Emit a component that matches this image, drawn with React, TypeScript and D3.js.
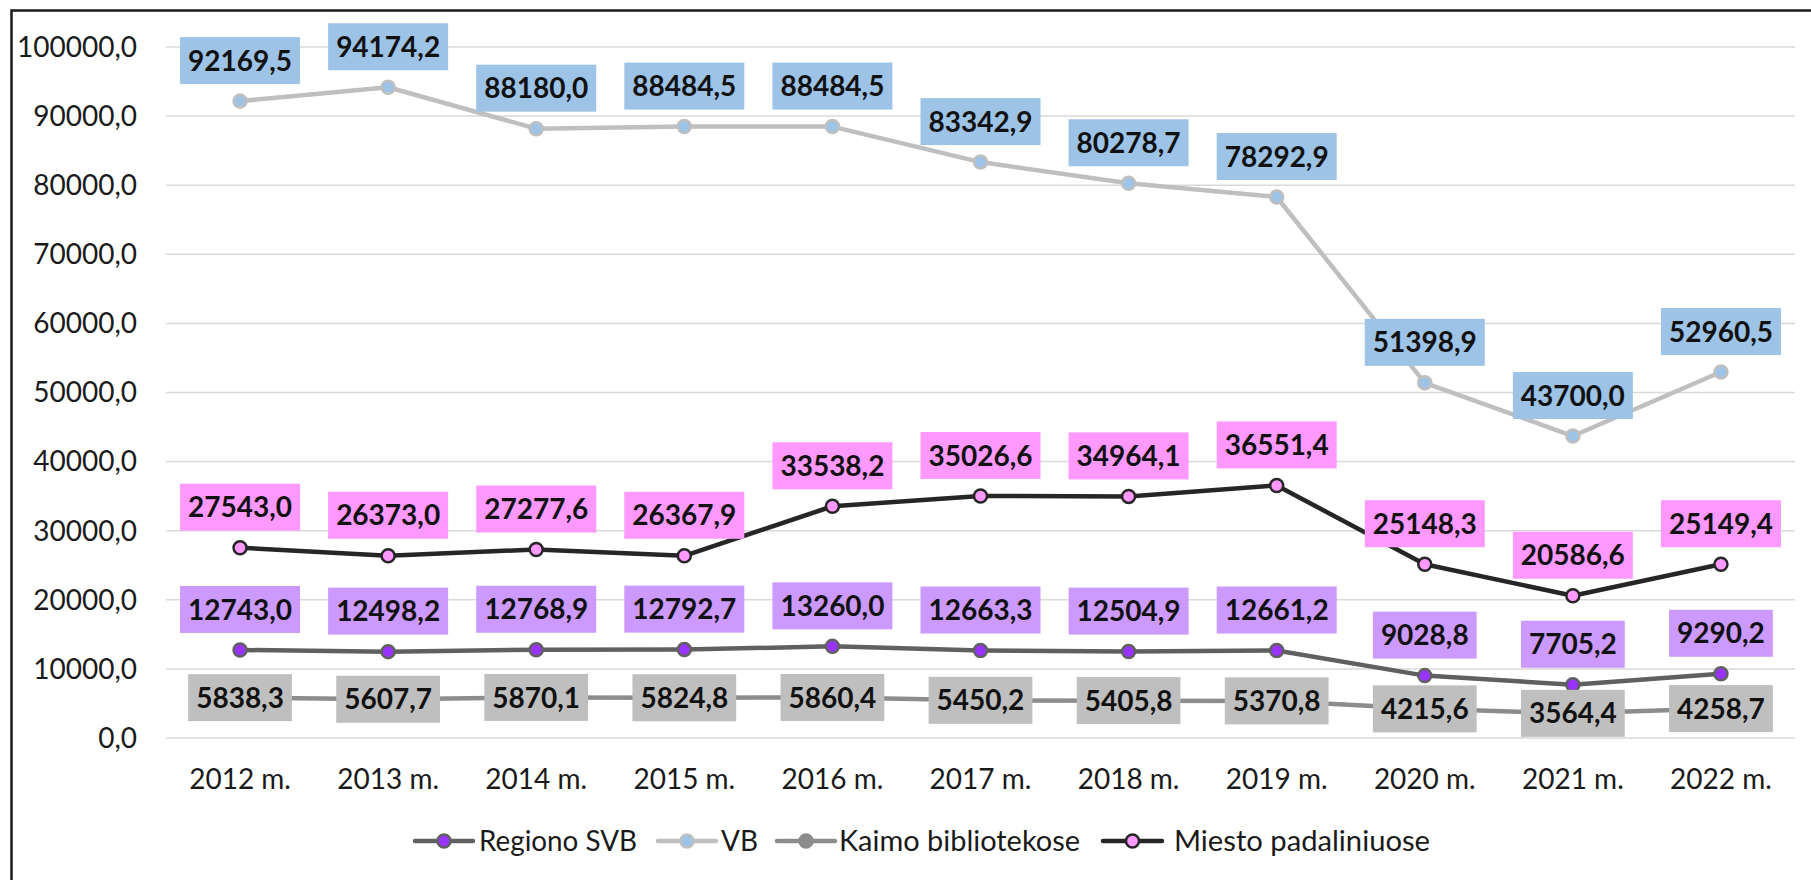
import React, { useRef, useEffect } from "react";
import * as d3 from "d3";

const years = ["2012 m.", "2013 m.", "2014 m.", "2015 m.", "2016 m.", "2017 m.", "2018 m.", "2019 m.", "2020 m.", "2021 m.", "2022 m."];
const regionoSVB = [12743.0, 12498.2, 12768.9, 12792.7, 13260.0, 12663.3, 12504.9, 12661.2, 9028.8, 7705.2, 9290.2];
const vb = [92169.5, 94174.2, 88180.0, 88484.5, 88484.5, 83342.9, 80278.7, 78292.9, 51398.9, 43700.0, 52960.5];
const kaimo = [5838.3, 5607.7, 5870.1, 5824.8, 5860.4, 5450.2, 5405.8, 5370.8, 4215.6, 3564.4, 4258.7];
const miesto = [27543.0, 26373.0, 27277.6, 26367.9, 33538.2, 35026.6, 34964.1, 36551.4, 25148.3, 20586.6, 25149.4];
const yTicks = [0, 10000, 20000, 30000, 40000, 50000, 60000, 70000, 80000, 90000, 100000];

const series = [
  { name: "Regiono SVB", values: regionoSVB, line: "#606060", marker: "#9933FF", box: "#CC99FF", pos: "above" },
  { name: "VB", values: vb, line: "#BFBFBF", marker: "#9DC3E6", box: "#9DC3E6", pos: "above" },
  { name: "Kaimo bibliotekose", values: kaimo, line: "#8C8C8C", marker: "#8C8C8C", box: "#BFBFBF", pos: "center" },
  { name: "Miesto padaliniuose", values: miesto, line: "#262626", marker: "#FF99FF", box: "#FF99FF", pos: "above" },
];

const fmt = (v: number) => d3.format(".1f")(v).replace(".", ",");
const FONT = "Lato, 'Open Sans', sans-serif";

function App() {
  const svgRef = useRef<SVGSVGElement>(null);

  useEffect(() => {
    const svg = d3.select(svgRef.current);
    svg.selectAll("*").remove();

    const x = d3.scaleBand().domain(years).range([166, 1795]);
    const y = d3.scaleLinear().domain([0, 100000]).range([738, 47]);
    const cx = (d: string) => (x(d) as number) + x.bandwidth() / 2;

    // frame (left and top edges)
    svg.append("path").attr("d", "M11.5,880 V10.5 H1811").attr("fill", "none").attr("stroke", "#1a1a1a").attr("stroke-width", 2.5);

    // gridlines + y labels
    svg.selectAll(".grid").data(yTicks).join("line")
      .attr("x1", 166).attr("x2", 1795)
      .attr("y1", d => y(d)).attr("y2", d => y(d))
      .attr("stroke", "#D9D9D9").attr("stroke-width", 1.5);
    svg.selectAll(".ylab").data(yTicks).join("text")
      .attr("x", 137).attr("y", d => y(d)).attr("dy", "0.35em")
      .attr("text-anchor", "end").attr("font-family", FONT).attr("font-size", 28).attr("fill", "#1a1a1a")
      .text(d => fmt(d));

    // x labels
    svg.selectAll(".xlab").data(years).join("text")
      .attr("x", d => cx(d)).attr("y", 779).attr("dy", "0.35em")
      .attr("text-anchor", "middle").attr("font-family", FONT).attr("font-size", 28).attr("fill", "#1a1a1a")
      .text(d => d);

    const line = d3.line<number>().x((_, i) => cx(years[i])).y(d => y(d));

    series.forEach(s => {
      svg.append("path").attr("d", line(s.values)).attr("fill", "none")
        .attr("stroke", s.line).attr("stroke-width", 4.5).attr("stroke-linejoin", "round");
      svg.append("g").selectAll("circle").data(s.values).join("circle")
        .attr("cx", (_, i) => cx(years[i])).attr("cy", d => y(d)).attr("r", 6.5)
        .attr("fill", s.marker).attr("stroke", s.line).attr("stroke-width", 2.5);
    });

    // data labels
    series.forEach(s => {
      const g = svg.append("g");
      s.values.forEach((v, i) => {
        const px = cx(years[i]);
        const py = y(v);
        const cy = s.pos === "center" ? py : py - 40.5;
        const lg = g.append("g");
        const rect = lg.append("rect").attr("fill", s.box);
        const t = lg.append("text").attr("x", px).attr("y", cy).attr("dy", "0.36em")
          .attr("text-anchor", "middle").attr("font-family", FONT).attr("font-size", 28)
          .attr("font-weight", "bold").attr("fill", "#111").text(fmt(v));
        const w = (t.node() as SVGTextElement).getComputedTextLength();
        rect.attr("x", px - w / 2 - 8).attr("y", cy - 23.5).attr("width", w + 16).attr("height", 47);
      });
    });

    // legend
    const legendY = 841;
    const legend = [
      { x0: 415, x1: 473, tx: 479, tw: 158 },
      { x0: 658, x1: 716, tx: 721, tw: 37 },
      { x0: 777, x1: 835, tx: 839, tw: 241 },
      { x0: 1103, x1: 1162, tx: 1174, tw: 256 },
    ];
    series.forEach((s, i) => {
      const { x0, x1, tx, tw } = legend[i];
      svg.append("line").attr("x1", x0).attr("x2", x1).attr("y1", legendY).attr("y2", legendY)
        .attr("stroke", s.line).attr("stroke-width", 4.5).attr("stroke-linecap", "round");
      svg.append("circle").attr("cx", (x0 + x1) / 2).attr("cy", legendY).attr("r", 6.5)
        .attr("fill", s.marker).attr("stroke", s.line).attr("stroke-width", 2.5);
      svg.append("text").attr("x", tx).attr("y", legendY).attr("dy", "0.35em")
        .attr("font-family", FONT).attr("font-size", 28).attr("fill", "#1a1a1a")
        .attr("textLength", tw).attr("lengthAdjust", "spacingAndGlyphs").text(s.name);
    });
  }, []);

  return (
    <div style={{ position: "absolute", left: 0, top: 0 }}>
      <svg ref={svgRef} width={1811} height={880} style={{ display: "block", background: "#fff" }}></svg>
    </div>
  );
}

export default App;
